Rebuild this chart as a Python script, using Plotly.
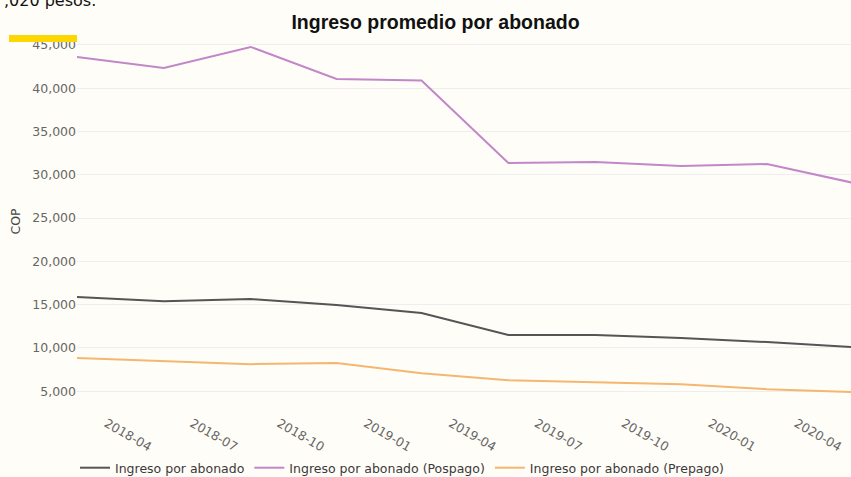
import plotly.graph_objects as go

fechas = ["2018-03-01", "2018-06-01", "2018-09-01", "2018-12-01", "2019-03-01",
          "2019-06-01", "2019-09-01", "2019-12-01", "2020-03-01", "2020-06-01"]
total = [15870, 15400, 15640, 14940, 14020, 11480, 11480, 11130, 10670, 10090]
pospago = [43610, 42340, 44770, 41070, 40900, 31360, 31470, 31010, 31240, 29050]
prepago = [8820, 8470, 8120, 8240, 7080, 6270, 6040, 5810, 5230, 4890]

series = [
    ("Ingreso por abonado", total, "#555555"),
    ("Ingreso por abonado (Pospago)", pospago, "#c386c9"),
    ("Ingreso por abonado (Prepago)", prepago, "#f5b66f"),
]

fig = go.Figure()
for name, vals, color in series:
    fig.add_trace(go.Scatter(x=fechas, y=vals, name=name, mode="lines",
                             line=dict(color=color, width=2)))

bg = "#fffdf7"
PH = 367
PW = 774
fig.update_layout(
    width=851, height=477,
    paper_bgcolor=bg, plot_bgcolor=bg,
    margin=dict(l=77, r=0, t=38, b=72, autoexpand=False),
    font=dict(family="DejaVu Sans", size=12, color="#444444"),
    title=dict(text="<b>Ingreso promedio por abonado</b>", x=435.5 / 851, xanchor="center",
               y=1 - 22 / 477, yanchor="middle",
               font=dict(family="Liberation Sans", size=19.5, color="#111111")),
    showlegend=True,
    legend=dict(orientation="h", x=-2 / PW, xanchor="left", y=-0.131, yanchor="top",
                font=dict(family="DejaVu Sans", size=12.5, color="#3a3a3a"),
                bgcolor="rgba(0,0,0,0)"),
    xaxis=dict(type="date", range=["2018-03-01", "2020-05-29"],
               tick0="2018-01-01", dtick="M3", tickformat="%Y-%m", tickangle=30,
               ticklabelstandoff=8,
               showgrid=False, zeroline=False, showline=False, ticks="",
               tickfont=dict(family="DejaVu Sans", size=12.5, color="#666666")),
    yaxis=dict(range=[3400, 45800], dtick=5000, tickformat=",",
               gridcolor="#eeeeee", gridwidth=1, zeroline=False, showline=False,
               title=dict(text="COP", standoff=8, font=dict(family="DejaVu Sans", size=12.5, color="#444444")),
               tickfont=dict(family="DejaVu Sans", size=12.5, color="#666666")),
)

# page decorations around the embedded chart
fig.add_annotation(text=",020 pesos.", xref="paper", yref="paper", x=(2 - 77) / PW,
                   xanchor="left", y=1 + (38 - 12) / PH, yanchor="bottom", showarrow=False,
                   font=dict(family="DejaVu Sans", size=16, color="#111111"))
fig.add_shape(type="rect", xref="paper", yref="paper",
              x0=(9 - 77) / PW, x1=0, y0=1 - 4 / PH, y1=1 + 3 / PH,
              fillcolor="#ffd700", line=dict(width=0), layer="above")

fig.write_html("out.html", config={"displayModeBar": False},
               post_script="document.body.style.margin='0';document.body.style.overflow='hidden';")
